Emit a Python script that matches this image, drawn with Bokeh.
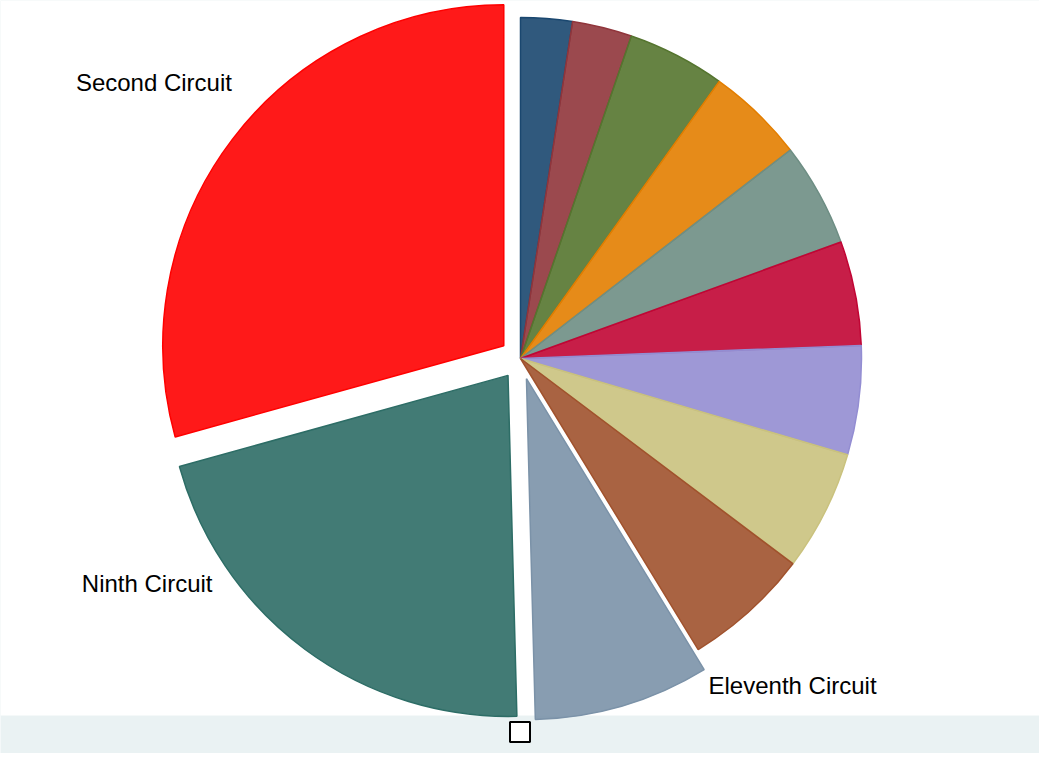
import math
from bokeh.plotting import figure
from bokeh.models import Range1d, Legend, LegendItem, ColumnDataSource, BoxAnnotation
from bokeh.core.properties import value
from bokeh.embed import file_html
from bokeh.resources import INLINE

# ---- data (sorted ascending, drawn clockwise from 12 o'clock) ----
circuits = ["First Circuit", "Tenth Circuit", "Seventh Circuit", "Eighth Circuit",
            "Fourth Circuit", "Sixth Circuit", "Fifth Circuit", "Third Circuit",
            "DC Circuit", "Eleventh Circuit", "Ninth Circuit", "Second Circuit"]
shares = [2.44, 2.83, 4.63, 4.63, 4.92, 4.94, 5.17, 5.72, 6.00, 8.31, 21.11, 29.31]
labeled = ["Eleventh Circuit", "Ninth Circuit", "Second Circuit"]
exploded = ["Eleventh Circuit", "Ninth Circuit", "Second Circuit"]

# ---- styles ----
colors = ["#1A476F", "#90353B", "#55752F", "#E37E00", "#6E8E84", "#C10534",
          "#938DD2", "#CAC27E", "#A0522D", "#7B92A8", "#2D6D66", "#FF0000"]
RADIUS = 341
EXPLODE = 21
# label placement: (clockwise angle from 12 o'clock in degrees, distance from centre)
label_place = {"Second Circuit": (307.0, 459), "Ninth Circuit": (238.9, 436),
               "Eleventh Circuit": (140.2, 425)}

total = float(sum(shares))
xs, ys, starts, ends = [], [], [], []
cum = 0.0
for name, v in zip(circuits, shares):
    t1 = cum / total * 360.0
    cum += v
    t2 = cum / total * 360.0
    mid = math.radians((t1 + t2) / 2.0)
    off = EXPLODE if name in exploded else 0
    xs.append(off * math.sin(mid))
    ys.append(off * math.cos(mid))
    starts.append(math.radians(90.0 - t2))
    ends.append(math.radians(90.0 - t1))

src = ColumnDataSource(dict(x=xs, y=ys, start=starts, end=ends,
                            color=colors, name=circuits))

# frame covers the whole figure (1 data unit == 1 pixel), so nothing gets clipped
p = figure(width=1039, height=753,
           x_range=Range1d(-520, 519), y_range=Range1d(-395, 358),
           output_backend="svg", toolbar_location=None,
           x_axis_type=None, y_axis_type=None,
           min_border_left=0, min_border_right=0, min_border_top=0,
           min_border_bottom=0,
           background_fill_color="#EAF2F3", border_fill_color="#EAF2F3",
           outline_line_color=None)

# white plot region
p.add_layout(BoxAnnotation(bottom=-357, fill_color="white", fill_alpha=1.0,
                           line_color=None, level="underlay"))

p.wedge(x="x", y="y", radius=RADIUS, start_angle="start", end_angle="end",
        direction="anticlock", fill_color="color", fill_alpha=0.9,
        line_color="color", line_width=1.5, source=src)

lx, ly, lt = [], [], []
for name in labeled:
    ang, r = label_place[name]
    a = math.radians(ang)
    lx.append(r * math.sin(a))
    ly.append(r * math.cos(a))
    lt.append(name)
p.text(x=lx, y=ly, text=lt, text_font=value("Liberation Sans"),
       text_font_size="24px", text_align="center", text_baseline="middle",
       text_color="black")

# empty legend key (as in the original), just under the plot region;
# the key's renderer is hidden, it only supplies the key's look
dummy = p.quad(left=[0], right=[0], top=[0], bottom=[0], fill_color="white",
               line_color="black", line_width=2, visible=False)
legend = Legend(items=[LegendItem(label=value(""), renderers=[dummy])],
                location=(507, 9.5), orientation="horizontal",
                glyph_width=25, glyph_height=25, label_width=0, label_height=0,
                label_standoff=0, padding=0, margin=0, spacing=0,
                border_line_color=None, background_fill_alpha=0,
                label_text_font_size="1px", inactive_fill_alpha=0)
p.add_layout(legend)

open("out.html", "w").write(file_html(p, INLINE))
